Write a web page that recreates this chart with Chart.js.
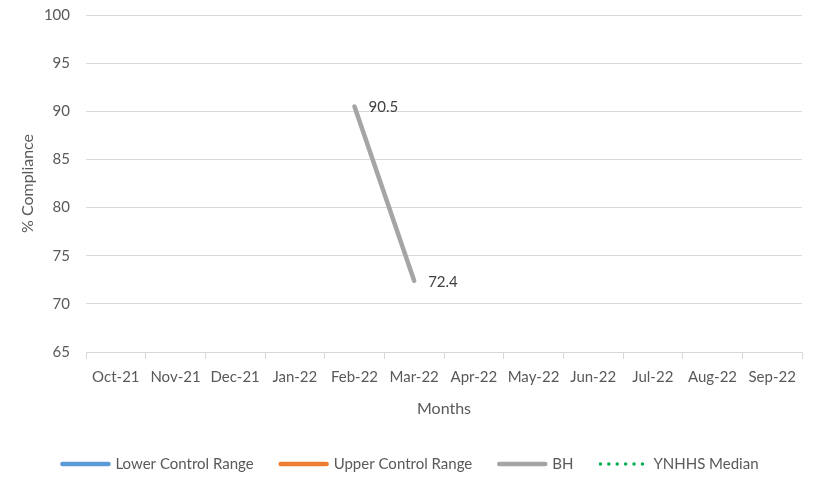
<!DOCTYPE html>
<html lang="en">
<head>
    <meta charset="UTF-8" />
    <title>% Compliance by Month</title>
    <script src="https://cdn.jsdelivr.net/npm/chart.js"></script>
    <style>
        html, body { margin: 0; padding: 0; background: #fff; }
        #wrap { width: 819px; height: 477px; }
    </style>
</head>
<body>
    <div id="wrap"><canvas id="complianceChart" width="819" height="477"></canvas></div>

    <script>
        const months = ['Oct-21', 'Nov-21', 'Dec-21', 'Jan-22', 'Feb-22', 'Mar-22',
                        'Apr-22', 'May-22', 'Jun-22', 'Jul-22', 'Aug-22', 'Sep-22'];
        const lowerControl = [null, null, null, null, null, null, null, null, null, null, null, null];
        const upperControl = [null, null, null, null, null, null, null, null, null, null, null, null];
        const bh = [null, null, null, null, 90.5, 72.4, null, null, null, null, null, null];
        const ynhhsMedian = [null, null, null, null, null, null, null, null, null, null, null, null];
        const yTicks = [65, 70, 75, 80, 85, 90, 95, 100];

        const FONT = 'Lato';
        const TEXT = '#595959';
        const GRID = '#d9d9d9';

        // value labels to the right of each BH point
        const valueLabels = {
            id: 'valueLabels',
            afterDatasetsDraw(chart) {
                const ctx = chart.ctx;
                chart.data.datasets.forEach((ds, i) => {
                    if (!ds.showValues) return;
                    const meta = chart.getDatasetMeta(i);
                    meta.data.forEach((pt, j) => {
                        const v = ds.data[j];
                        if (v == null) return;
                        ctx.save();
                        ctx.font = '15px ' + FONT;
                        ctx.fillStyle = '#404040';
                        ctx.textAlign = 'left';
                        ctx.textBaseline = 'middle';
                        ctx.fillText(v.toFixed(1), pt.x + 14, pt.y + 1);
                        ctx.restore();
                    });
                });
            }
        };

        // legend drawn as short line samples, centred under the chart
        const lineLegend = {
            id: 'lineLegend',
            afterDraw(chart) {
                const ctx = chart.ctx;
                ctx.save();
                ctx.font = '15px ' + FONT;
                const sample = 50, gap = 5, space = 25, y = 464;
                const items = chart.data.datasets.map(ds => ({
                    label: ds.label,
                    color: ds.borderColor,
                    dash: ds.borderDash || [],
                    w: ctx.measureText(ds.label).width
                }));
                const total = items.reduce((a, it) => a + sample + gap + it.w, 0) + space * (items.length - 1);
                let x = (chart.width - total) / 2;
                items.forEach(it => {
                    ctx.beginPath();
                    ctx.strokeStyle = it.color;
                    ctx.lineCap = 'round';
                    ctx.lineWidth = it.dash.length ? 3.5 : 4.5;
                    ctx.setLineDash(it.dash);
                    ctx.moveTo(x + 2, y);
                    ctx.lineTo(x + sample - 2, y);
                    ctx.stroke();
                    ctx.setLineDash([]);
                    ctx.fillStyle = TEXT;
                    ctx.textAlign = 'left';
                    ctx.textBaseline = 'middle';
                    ctx.fillText(it.label, x + sample + gap, y);
                    x += sample + gap + it.w + space;
                });
                ctx.restore();
            }
        };

        new Chart(document.getElementById('complianceChart'), {
            type: 'line',
            data: {
                labels: months,
                datasets: [
                    { label: 'Lower Control Range', data: lowerControl, borderColor: '#5b9bd5', borderWidth: 2.5, pointRadius: 0 },
                    { label: 'Upper Control Range', data: upperControl, borderColor: '#ed7d31', borderWidth: 2.5, pointRadius: 0 },
                    { label: 'BH', data: bh, borderColor: '#a5a5a5', borderWidth: 4.5, borderCapStyle: 'round', pointRadius: 0, showValues: true },
                    { label: 'YNHHS Median', data: ynhhsMedian, borderColor: '#00b050', borderWidth: 2.5, borderDash: [0, 8.4], pointRadius: 0 }
                ]
            },
            options: {
                responsive: false,
                animation: false,
                layout: { padding: { top: 15, right: 17, bottom: 0, left: 0 } },
                plugins: {
                    legend: { display: false },
                    tooltip: { enabled: false }
                },
                scales: {
                    x: {
                        offset: true,
                        afterFit: s => { s.height = 125; s.paddingLeft = 0; s.paddingRight = 0; },
                        grid: { offset: true, drawOnChartArea: false, drawTicks: true, tickLength: 7, color: GRID },
                        border: { color: GRID },
                        ticks: { color: TEXT, font: { family: FONT, size: 15 }, padding: 9, maxRotation: 0, autoSkip: false },
                        title: { display: true, text: 'Months', color: TEXT, font: { family: FONT, size: 16 }, padding: { top: 0, bottom: 59 } }
                    },
                    y: {
                        min: 65,
                        max: 100,
                        afterFit: s => { s.width = 86; s.paddingTop = 0; s.paddingBottom = 0; },
                        afterBuildTicks: s => { s.ticks = yTicks.map(v => ({ value: v })); },
                        grid: { color: GRID, drawTicks: false },
                        border: { display: false },
                        ticks: { color: TEXT, font: { family: FONT, size: 15 }, padding: 16 },
                        title: { display: true, text: '% Compliance', color: TEXT, font: { family: FONT, size: 16 }, padding: { top: 18, bottom: 0 } }
                    }
                }
            },
            plugins: [valueLabels, lineLegend]
        });
    </script>
</body>
</html>
